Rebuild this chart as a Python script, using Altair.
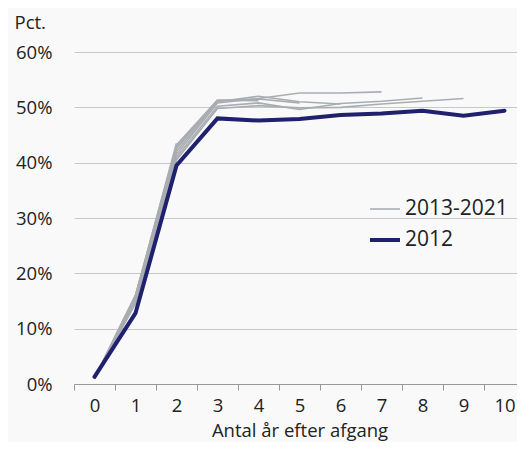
import altair as alt
import pandas as pd

years = list(range(0, 11))

y2012 = [1.3, 12.8, 39.5, 48.0, 47.6, 47.9, 48.6, 48.9, 49.4, 48.5, 49.4]

cohorts = {
    "2013": [1.0, 14.5, 40.5, 49.8, 50.3, 49.9, 50.0, 50.6, 51.1, 51.6],
    "2014": [1.0, 15.0, 41.0, 50.2, 50.8, 49.6, 50.7, 51.1, 51.7],
    "2015": [1.0, 15.5, 41.5, 50.8, 51.6, 52.6, 52.6, 52.8],
    "2016": [1.0, 15.5, 42.0, 51.0, 52.0, 51.0, 50.6],
    "2017": [1.0, 16.0, 42.5, 51.2, 51.5, 50.8],
    "2018": [1.0, 15.5, 42.8, 51.3, 51.2],
    "2019": [1.0, 16.0, 43.2, 51.3],
    "2020": [1.0, 16.0, 43.5],
    "2021": [1.0, 15.5],
}

gray_rows = []
for c, vals in cohorts.items():
    for i, v in enumerate(vals):
        gray_rows.append({"x": years[i], "v": v, "cohort": c, "group": "2013-2021"})
gray_df = pd.DataFrame(gray_rows)
navy_df = pd.DataFrame({"x": years, "v": y2012, "cohort": "2012", "group": "2012"})

FONT = "Open Sans"
TXT = "#222222"
groups = ["2013-2021", "2012"]

color = alt.Color(
    "group:N",
    scale=alt.Scale(domain=groups, range=["#a9adb2", "#1f216e"]),
    legend=alt.Legend(
        title=None,
        orient="none",
        legendX=294,
        legendY=141,
        symbolType="stroke",
        symbolSize=900,
        labelFontSize=21,
        labelFont=FONT,
        labelColor=TXT,
        labelOffset=3,
        rowPadding=4,
    ),
)
sw = alt.StrokeWidth(
    "group:N",
    scale=alt.Scale(domain=groups, range=[1.6, 4]),
    legend=alt.Legend(title=None),
)

x = alt.X(
    "x:O",
    scale=alt.Scale(type="band", paddingInner=0, paddingOuter=0, domain=years),
    axis=alt.Axis(
        title="Antal år efter afgang",
        labelAngle=0,
        tickBand="extent",
        tickSize=6,
        tickColor="#999999",
        domainColor="#999999",
        labelPadding=6,
        labelFontSize=18.5,
        labelFont=FONT,
        labelColor=TXT,
        titleFontSize=18.5,
        titleFont=FONT,
        titleFontWeight="normal",
        titleColor=TXT,
        titleBaseline="alphabetic",
        titleY=52,
        grid=False,
    ),
)
y = alt.Y(
    "v:Q",
    scale=alt.Scale(domain=[0, 60], nice=False),
    axis=alt.Axis(
        values=[0, 10, 20, 30, 40, 50, 60],
        labelExpr="datum.value + '%'",
        domain=False,
        ticks=False,
        labelPadding=22,
        labelFontSize=18.5,
        labelFont=FONT,
        labelColor=TXT,
        gridColor="#c8c8c8",
        gridWidth=1,
        title="Pct.",
        titleAngle=0,
        titleAlign="left",
        titleBaseline="middle",
        titleX=-60,
        titleY=-30,
        titleFontSize=18.5,
        titleFont=FONT,
        titleFontWeight="normal",
        titleColor=TXT,
    ),
)

gray = alt.Chart(gray_df).mark_line(strokeCap="butt", strokeJoin="miter").encode(
    x=x, y=y, color=color, strokeWidth=sw, detail="cohort:N"
)
navy = alt.Chart(navy_df).mark_line(strokeCap="round", strokeJoin="miter").encode(
    x=x, y=y, color=color, strokeWidth=sw
)

chart = (
    alt.layer(gray, navy)
    .properties(
        width=451,
        height=332,
        autosize=alt.AutoSizeParams(type="none"),
        padding={"left": 66, "top": 44, "right": -8, "bottom": 58},
        background="#f9f9f9",
    )
    .configure_view(stroke=None)
)

chart.save("out.html", embed_options={"renderer": "svg", "actions": False})
